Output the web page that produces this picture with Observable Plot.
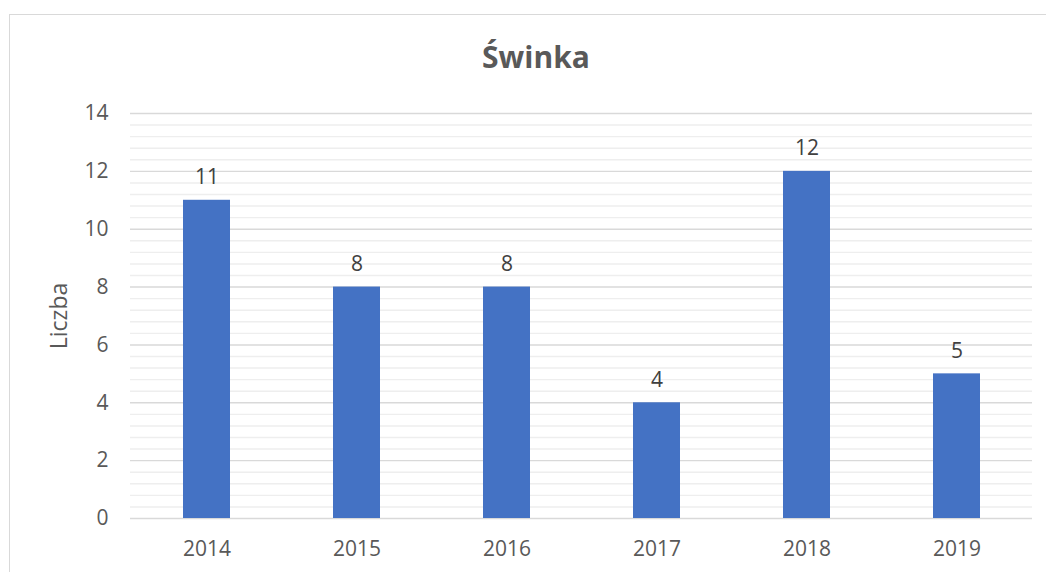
<!DOCTYPE html>
<html>
<head>
<meta charset="utf-8">
<script src="https://cdn.jsdelivr.net/npm/d3@7"></script>
<script src="https://cdn.jsdelivr.net/npm/@observablehq/plot@0.6"></script>
<style>
  html, body { margin: 0; padding: 0; background: #fff; overflow: hidden; }
  #wrap { position: relative; width: 1046px; height: 572px; font-family: "Open Sans", sans-serif; }
  #frame { position: absolute; left: 9px; top: 14px; width: 1100px; height: 700px; border: 1px solid #d9d9d9; box-sizing: border-box; }
  #title { position: absolute; left: 0; top: 37px; width: 1072px; text-align: center; font-size: 30px; font-weight: bold; color: #595959; line-height: 40px; }
  #chart { position: absolute; left: 0; top: 0; }
  #chart svg text { font-size: 21px; }
  #chart svg g[aria-label="y-axis label"] text { font-size: 23px; }
</style>
</head>
<body>
<div id="wrap">
  <div id="frame"></div>
  <div id="chart"></div>
  <div id="title">Świnka</div>
</div>
<script>
const years = ["2014", "2015", "2016", "2017", "2018", "2019"];
const counts = [11, 8, 8, 4, 12, 5];
const yTicks = [0, 2, 4, 6, 8, 10, 12, 14];
const yLabel = "Liczba";

const data = years.map((y, i) => ({year: y, count: counts[i]}));
const minorTicks = d3.range(0, 14.001, 0.4).filter(v => Math.abs(v / 2 - Math.round(v / 2)) > 1e-6);

const chart = Plot.plot({
  width: 1046,
  height: 572,
  marginLeft: 130,
  marginRight: 14,
  marginTop: 113,
  marginBottom: 54,
  style: {fontFamily: "'Open Sans', sans-serif", fontSize: "21px", color: "#595959", background: "transparent"},
  x: {domain: years, paddingInner: 0.69, paddingOuter: 0.345, label: null, tickSize: 0, tickPadding: 23},
  y: {domain: [0, 14], ticks: yTicks, label: yLabel, labelAnchor: "center", labelArrow: "none", labelOffset: 80, tickSize: 0, tickPadding: 22},
  marks: [
    Plot.ruleY(minorTicks, {stroke: "#eeeeee", strokeWidth: 1.4}),
    Plot.ruleY(yTicks, {stroke: "#d9d9d9", strokeWidth: 1.4}),
    Plot.barY(data, {x: "year", y: "count", fill: "#4472C4"}),
    Plot.text(data, {x: "year", y: "count", text: d => String(d.count), lineAnchor: "bottom", dy: -16, fill: "#404040", fontSize: 21})
  ]
});
document.getElementById("chart").appendChild(chart);
</script>
</body>
</html>
